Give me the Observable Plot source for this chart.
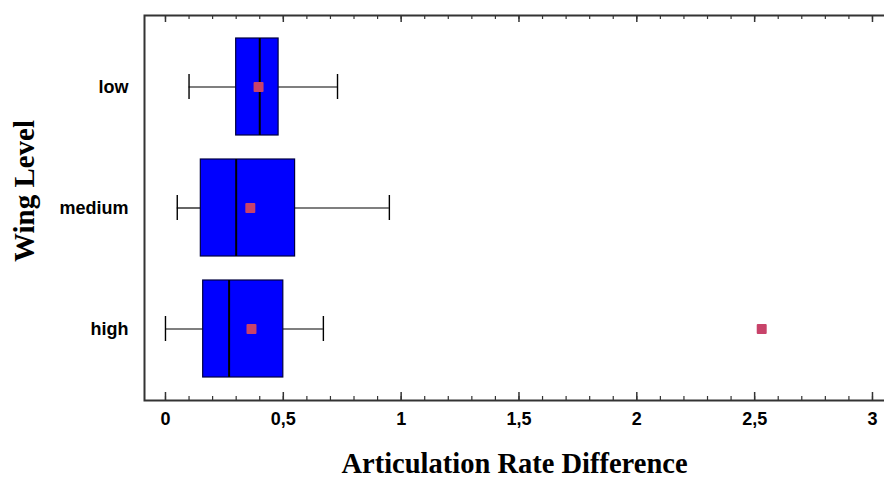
<!DOCTYPE html>
<html>
<head>
<meta charset="utf-8">
<script src="https://cdn.jsdelivr.net/npm/d3@7"></script>
<script src="https://cdn.jsdelivr.net/npm/@observablehq/plot@0.6"></script>
<style>
  html, body { margin: 0; padding: 0; background: white; }
</style>
</head>
<body>
<div id="chart"></div>
<script>
const levels = ["low", "medium", "high"];
const whiskerLow = [0.10, 0.05, 0.00];
const q1 = [0.30, 0.15, 0.16];
const median = [0.40, 0.30, 0.27];
const q3 = [0.48, 0.55, 0.50];
const whiskerHigh = [0.73, 0.95, 0.67];
const mean = [0.395, 0.36, 0.365];
const outlierLevel = ["high"];
const outlierValue = [2.53];
const majorTicks = [0, 0.5, 1, 1.5, 2, 2.5, 3];
const minorTicks = d3.range(0, 31).map(i => i / 10);

const rows = levels.map((level, i) => ({
  level, wlo: whiskerLow[i], q1: q1[i], med: median[i], q3: q3[i], whi: whiskerHigh[i], mean: mean[i]
}));
const outliers = outlierLevel.map((level, i) => ({level, value: outlierValue[i]}));

const fmt = d => String(d).replace(".", ",");
const markColor = "#c8436a";
const axisColor = "#333333";

const chart = Plot.plot({
  width: 884,
  height: 479,
  marginTop: 15,
  marginBottom: 79,
  marginLeft: 144,
  marginRight: 0,
  style: {fontFamily: "'Liberation Sans', Arial, sans-serif", background: "white", color: "black"},
  x: {domain: [-0.089, 3.051]},
  y: {type: "band", domain: levels, paddingInner: 0.2, paddingOuter: 0.187, align: 0.5},
  marks: [
    Plot.ruleY(rows, {y: "level", x1: "wlo", x2: "q1", stroke: "black", strokeWidth: 1.2}),
    Plot.ruleY(rows, {y: "level", x1: "q3", x2: "whi", stroke: "black", strokeWidth: 1.2}),
    Plot.tickX(rows, {x: "wlo", y: "level", insetTop: 36, insetBottom: 36, stroke: "black", strokeWidth: 1.4}),
    Plot.tickX(rows, {x: "whi", y: "level", insetTop: 36, insetBottom: 36, stroke: "black", strokeWidth: 1.4}),
    Plot.barX(rows, {y: "level", x1: "q1", x2: "q3", fill: "#0000ff", stroke: "#000040", strokeWidth: 1.2}),
    Plot.tickX(rows, {x: "med", y: "level", stroke: "black", strokeWidth: 2}),
    Plot.dot(rows, {x: "mean", y: "level", symbol: "square", r: 4.5, fill: markColor, stroke: markColor, strokeWidth: 2, strokeLinejoin: "round"}),
    Plot.dot(outliers, {x: "value", y: "level", symbol: "square", r: 4.5, fill: markColor, stroke: markColor, strokeWidth: 2, strokeLinejoin: "round"}),
    // inner ticks on bottom and top edges
    Plot.ruleX(minorTicks, {insetTop: 381, stroke: axisColor, strokeWidth: 1.2}),
    Plot.ruleX(majorTicks, {insetTop: 377, stroke: axisColor, strokeWidth: 1.5}),
    Plot.ruleX(minorTicks, {insetBottom: 381, stroke: axisColor, strokeWidth: 1.2}),
    Plot.ruleX(majorTicks, {insetBottom: 378, stroke: axisColor, strokeWidth: 1.5}),
    Plot.frame({stroke: axisColor, strokeWidth: 2, insetRight: -4}),
    Plot.axisX({anchor: "bottom", ticks: majorTicks, tickSize: 0, tickPadding: 12, tickFormat: fmt,
      fontSize: 18, fontWeight: "bold", label: null}),
    Plot.axisY({anchor: "left", tickSize: 0, tickPadding: 16, fontSize: 18, fontWeight: "bold", label: null}),
    Plot.text(["Articulation Rate Difference"], {frameAnchor: "bottom", textAnchor: "middle", lineAnchor: "bottom", dy: 72,
      fontFamily: "'Liberation Serif', 'Times New Roman', serif", fontWeight: "bold", fontSize: 28.5, fill: "black"}),
    Plot.text(["Wing Level"], {frameAnchor: "left", textAnchor: "middle", rotate: -90, lineAnchor: "bottom", dx: -111, dy: -17,
      fontFamily: "'Liberation Serif', 'Times New Roman', serif", fontWeight: "bold", fontSize: 29, fill: "black"})
  ]
});
document.getElementById("chart").appendChild(chart);
</script>
</body>
</html>
